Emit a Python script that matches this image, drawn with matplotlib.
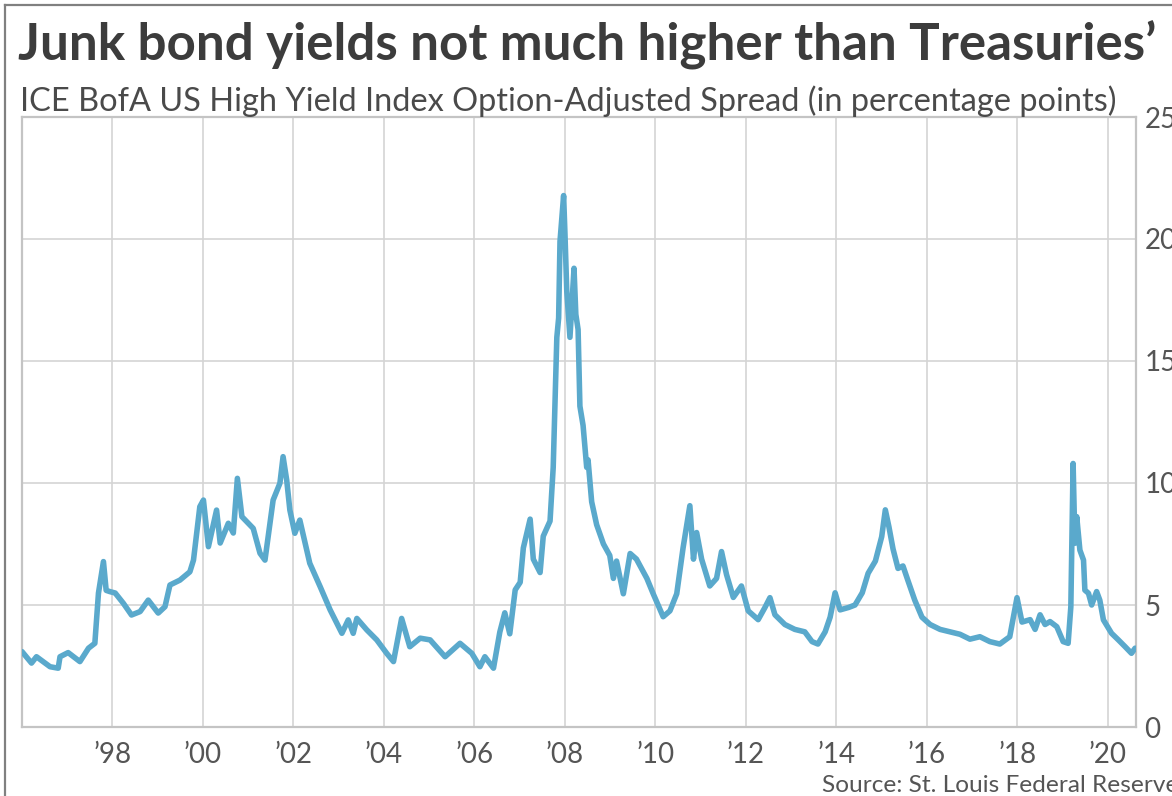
import matplotlib
matplotlib.use("Agg")
import matplotlib.pyplot as plt
from matplotlib.lines import Line2D

# ---- data (chart-year positions, spread in percentage points) ----
years = [1996.00, 1996.21, 1996.32, 1996.62, 1996.80, 1996.84, 1997.02, 1997.28, 1997.47, 1997.61,
         1997.69, 1997.80, 1997.86, 1997.94, 1998.06, 1998.24, 1998.42, 1998.61, 1998.79, 1999.01,
         1999.16, 1999.27, 1999.49, 1999.71, 1999.79, 1999.86, 1999.93, 2000.01, 2000.12, 2000.30,
         2000.38, 2000.56, 2000.67, 2000.76, 2000.86, 2001.11, 2001.26, 2001.37, 2001.55, 2001.70,
         2001.77, 2001.85, 2001.92, 2002.03, 2002.14, 2002.36, 2002.59, 2002.81, 2003.07, 2003.21,
         2003.32, 2003.40, 2003.62, 2003.84, 2004.06, 2004.21, 2004.39, 2004.57, 2004.80, 2005.02,
         2005.35, 2005.68, 2005.94, 2006.12, 2006.23, 2006.42, 2006.56, 2006.67, 2006.78, 2006.90,
         2007.01, 2007.08, 2007.23, 2007.30, 2007.45, 2007.52, 2007.67, 2007.74, 2007.82, 2007.86,
         2007.89, 2007.97, 2008.00, 2008.04, 2008.11, 2008.20, 2008.24, 2008.29, 2008.33, 2008.40,
         2008.48, 2008.51, 2008.59, 2008.70, 2008.85, 2008.99, 2009.07, 2009.14, 2009.29, 2009.44,
         2009.58, 2009.81, 2009.95, 2010.17, 2010.32, 2010.47, 2010.61, 2010.76, 2010.84, 2010.91,
         2011.02, 2011.20, 2011.35, 2011.46, 2011.57, 2011.72, 2011.90, 2012.05, 2012.27, 2012.42,
         2012.53, 2012.64, 2012.86, 2013.08, 2013.30, 2013.46, 2013.59, 2013.75, 2013.86, 2013.97,
         2014.08, 2014.27, 2014.41, 2014.57, 2014.70, 2014.86, 2015.00, 2015.08, 2015.16, 2015.25,
         2015.36, 2015.47, 2015.58, 2015.73, 2015.89, 2016.07, 2016.29, 2016.51, 2016.73, 2016.95,
         2017.17, 2017.39, 2017.61, 2017.83, 2017.99, 2018.10, 2018.28, 2018.39, 2018.50, 2018.61,
         2018.72, 2018.87, 2019.01, 2019.12, 2019.18, 2019.23, 2019.27, 2019.31, 2019.38, 2019.46,
         2019.49, 2019.57, 2019.64, 2019.75, 2019.82, 2019.90, 2020.08, 2020.23, 2020.38, 2020.52,
         2020.60]
spread = [3.09, 2.62, 2.88, 2.47, 2.41, 2.88, 3.05, 2.68, 3.23, 3.43,
          5.49, 6.78, 5.60, 5.55, 5.49, 5.07, 4.59, 4.73, 5.20, 4.67,
          4.93, 5.82, 6.02, 6.36, 6.84, 7.95, 9.03, 9.30, 7.39, 8.89,
          7.54, 8.35, 7.95, 10.19, 8.62, 8.14, 7.12, 6.84, 9.30, 9.99,
          11.08, 10.12, 8.89, 7.94, 8.48, 6.71, 5.75, 4.80, 3.84, 4.39,
          3.84, 4.45, 3.98, 3.57, 3.02, 2.68, 4.45, 3.29, 3.64, 3.57,
          2.88, 3.43, 3.02, 2.47, 2.88, 2.41, 3.89, 4.68, 3.82, 5.62,
          5.93, 7.34, 8.52, 6.88, 6.33, 7.82, 8.44, 10.64, 15.97, 16.76,
          19.90, 21.78, 20.20, 17.85, 15.97, 18.80, 16.91, 16.29, 13.15, 12.36,
          10.64, 10.95, 9.23, 8.29, 7.50, 7.03, 6.09, 6.80, 5.46, 7.11,
          6.88, 6.09, 5.46, 4.52, 4.76, 5.46, 7.34, 9.07, 6.88, 7.97,
          6.88, 5.78, 6.09, 7.19, 6.25, 5.31, 5.78, 4.76, 4.40, 4.90,
          5.30, 4.60, 4.20, 4.00, 3.90, 3.50, 3.40, 3.90, 4.50, 5.50,
          4.80, 4.90, 5.00, 5.50, 6.30, 6.80, 7.80, 8.90, 8.20, 7.30,
          6.50, 6.60, 6.00, 5.20, 4.50, 4.20, 4.00, 3.90, 3.80, 3.60,
          3.70, 3.50, 3.40, 3.70, 5.30, 4.30, 4.40, 4.00, 4.60, 4.20,
          4.32, 4.11, 3.50, 3.43, 4.93, 10.80, 7.53, 8.62, 7.25, 6.84,
          5.61, 5.48, 5.00, 5.55, 5.20, 4.39, 3.84, 3.57, 3.29, 3.02,
          3.23]

x_ticks = [1998, 2000, 2002, 2004, 2006, 2008, 2010, 2012, 2014, 2016, 2018, 2020]
x_tick_labels = ["\u201998", "\u201900", "\u201902", "\u201904", "\u201906", "\u201908",
                 "\u201910", "\u201912", "\u201914", "\u201916", "\u201918", "\u201920"]
y_ticks = [0, 5, 10, 15, 20, 25]
y_tick_labels = ["0", "5", "10", "15", "20", "25"]

title = "Junk bond yields not much higher than Treasuries\u2019"
subtitle = "ICE BofA US High Yield Index Option-Adjusted Spread (in percentage points)"
source = "Source: St. Louis Federal Reserve"

plt.rcParams['font.family'] = ['Lato', 'DejaVu Sans']

W, H = 1172, 796
fig = plt.figure(figsize=(W / 100, H / 100), dpi=100)
fig.patch.set_facecolor("white")

L, R, T, B = 22, 1136, 117, 727
ax = fig.add_axes([L / W, 1 - B / H, (R - L) / W, (B - T) / H])
ax.plot(years, spread, color="#5aa9cc", lw=4.0, solid_joinstyle="round", solid_capstyle="round", zorder=3)
ax.set_xlim(1996.0, 2020.62)
ax.set_ylim(0, 25)

ax.set_xticks(x_ticks)
ax.set_xticklabels(x_tick_labels)
ax.set_yticks(y_ticks)
ax.set_yticklabels(y_tick_labels)
ax.yaxis.tick_right()
ax.tick_params(axis="both", length=0, labelsize=20, labelcolor="#555555")
ax.tick_params(axis="x", pad=11)
ax.tick_params(axis="y", pad=6)
ax.grid(True, color="#d4d4d4", lw=1.2, zorder=0)
for s in ax.spines.values():
    s.set_color("#c4c4c4")
    s.set_linewidth(1.6)

fig.text(18 / W, 1 - 61 / H, title, fontsize=36.8, fontweight="bold", color="#3c3c3c",
         ha="left", va="baseline")
fig.text(20 / W, 1 - 111 / H, subtitle, fontsize=23.4, color="#4a4a4a", ha="left", va="baseline")
fig.text(822 / W, 1 - 792 / H, source, fontsize=17.6, color="#555555", ha="left", va="baseline")

# outer frame (top and left edges visible)
fig.add_artist(Line2D([5 / W, 1], [1 - 5 / H, 1 - 5 / H], transform=fig.transFigure,
                      color="#808080", lw=1.6))
fig.add_artist(Line2D([5 / W, 5 / W], [0, 1 - 5 / H], transform=fig.transFigure,
                      color="#808080", lw=1.6))

fig.savefig("out.png", dpi=100)
